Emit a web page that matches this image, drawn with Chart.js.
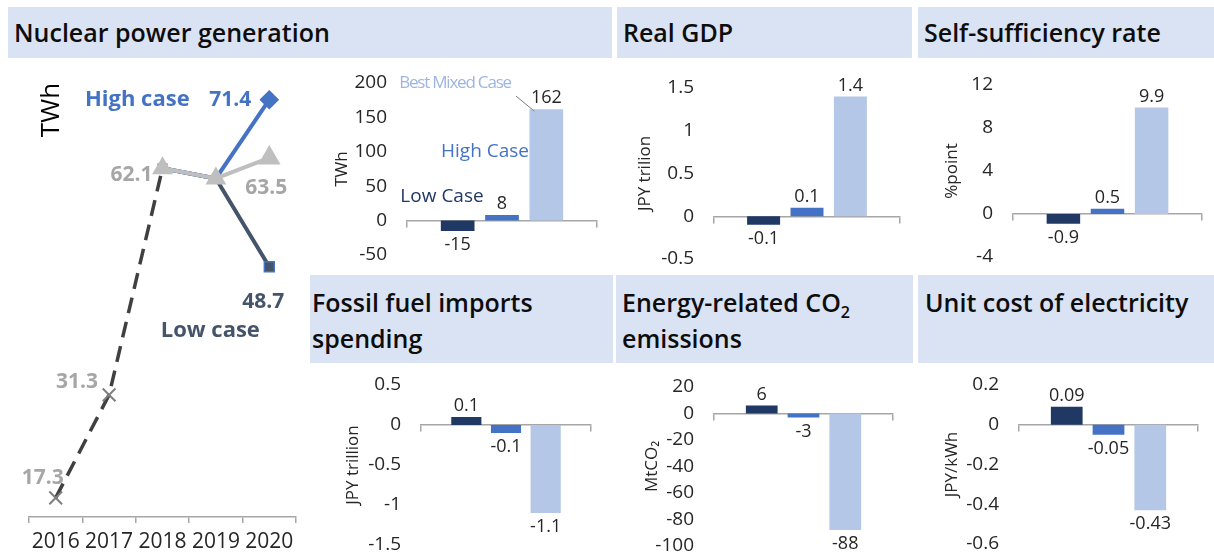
<!DOCTYPE html>
<html>
<head>
<meta charset="utf-8">
<script src="https://cdn.jsdelivr.net/npm/chart.js@4.4.0/dist/chart.umd.min.js"></script>
<style>
  body { margin: 0; background: #fff; width: 1214px; height: 556px; overflow: hidden; position: relative; font-family: 'Open Sans', sans-serif; }
  .hd { position: absolute; background: #dae3f3; color: #0d0d0d; font-weight: 600; font-size: 25px; line-height: 36px; padding: 0 6px; box-sizing: border-box; white-space: nowrap; }
  .row1 { top: 7px; height: 51px; padding-top: 7px; }
  .row2 { top: 275px; height: 88px; padding-top: 9px; }
  canvas { position: absolute; }
</style>
</head>
<body>
<div class="hd row1" style="left:8px;width:604px">Nuclear power generation</div>
<div class="hd row1" style="left:617px;width:295px">Real GDP</div>
<div class="hd row1" style="left:918px;width:296px">Self-sufficiency rate</div>
<div class="hd row2" style="left:310px;width:303px;padding-left:2px">Fossil fuel imports<br>spending</div>
<div class="hd row2" style="left:616px;width:297px">Energy-related CO<sub style="font-size:16px;line-height:0">2</sub><br>emissions</div>
<div class="hd row2" style="left:918px;width:296px;padding-left:7px">Unit cost of electricity</div>

<canvas id="lineNuclear" width="300" height="496" style="left:0;top:60px"></canvas>
<canvas id="barNuclear"></canvas>
<canvas id="barGdp"></canvas>
<canvas id="barSelf"></canvas>
<canvas id="barFossil"></canvas>
<canvas id="barCo2"></canvas>
<canvas id="barUnit"></canvas>

<script>
// nuclear generation path (TWh)
const years = ['2016', '2017', '2018', '2019', '2020'];
const histValues = [17.3, 31.3, 62.1, null, null];
const baseValues = [null, null, 62.1, 60.7, 63.5];
const highValues = [null, null, 62.1, 60.7, 71.4];
const lowValues = [null, null, 62.1, 60.7, 48.7];

// differences by case
const caseNames = ['Low Case', 'High Case', 'Best Mixed Case'];
const caseColors = ['#203864', '#4472c4', '#b4c7e7'];
const nuclearDiff = [-15, 8, 162];
const gdpDiff = [-0.1, 0.1, 1.4];
const selfSuffDiff = [-0.9, 0.5, 9.9];
const fossilDiff = [0.1, -0.1, -1.1];
const co2Diff = [6, -3, -88];
const unitCostDiff = [0.09, -0.05, -0.43];

// y ranges: [min, max, step]
const nuclearTicks = [-50, 200, 50];
const gdpTicks = [-0.5, 1.5, 0.5];
const selfSuffTicks = [-4, 12, 4];
const fossilTicks = [-1.5, 0.5, 0.5];
const co2Ticks = [-100, 20, 20];
const unitCostTicks = [-0.6, 0.2, 0.2];

const TEXT = '#262626';
const AXIS = '#a6a6a6';
const FONT = "'Open Sans', sans-serif";

// ---------- left line chart ----------
const lineLabels = [
    { ds: 3, i: 0, dx: -13, dy: -20, color: '#a6a6a6' },
    { ds: 3, i: 1, dx: -32, dy: -13, color: '#a6a6a6' },
    { ds: 3, i: 2, dx: -31, dy: 7, color: '#a6a6a6' },
    { ds: 0, i: 4, dx: -3, dy: 30, color: '#a6a6a6' },
    { ds: 1, i: 4, dx: -39, dy: 0, color: '#4472c4' },
    { ds: 2, i: 4, dx: -6, dy: 35, color: '#44546a' }
];

const lineLabelPlugin = {
    id: 'lineLabels',
    afterDatasetsDraw(chart) {
        const ctx = chart.ctx;
        ctx.save();
        ctx.textAlign = 'center';
        ctx.textBaseline = 'middle';
        ctx.font = `bold 21px ${FONT}`;
        lineLabels.forEach(l => {
            const pt = chart.getDatasetMeta(l.ds).data[l.i];
            const v = chart.data.datasets[l.ds].data[l.i];
            ctx.fillStyle = l.color;
            ctx.fillText(v.toFixed(1), pt.x + l.dx, pt.y + l.dy);
        });
        // case names next to the 2020 ends
        ctx.font = `bold 22px ${FONT}`;
        const hi = chart.getDatasetMeta(1).data[4];
        const lo = chart.getDatasetMeta(2).data[4];
        ctx.fillStyle = '#4472c4';
        ctx.fillText('High case', hi.x - 132, hi.y);
        ctx.fillStyle = '#44546a';
        ctx.fillText('Low case', lo.x - 59, lo.y + 64);
        // unit
        ctx.translate(52, 50);
        ctx.rotate(-Math.PI / 2);
        ctx.font = `26px ${FONT}`;
        ctx.fillStyle = '#000';
        ctx.fillText('TWh', 0, 0);
        ctx.restore();
    }
};

new Chart(document.getElementById('lineNuclear'), {
    type: 'line',
    data: {
        labels: years,
        datasets: [
            {
                label: 'Base', data: baseValues, borderColor: '#bfbfbf', backgroundColor: '#bfbfbf',
                borderWidth: 4, pointStyle: 'triangle', pointRadius: [0, 0, 8, 8, 9]
            },
            {
                label: 'High case', data: highValues, borderColor: '#4472c4', backgroundColor: '#4472c4',
                borderWidth: 4, pointStyle: 'rectRot', pointRadius: [0, 0, 0, 0, 7]
            },
            {
                label: 'Low case', data: lowValues, borderColor: '#44546a', backgroundColor: '#44546a',
                borderWidth: 4, pointStyle: 'rect', pointRadius: [0, 0, 6, 0, 7], pointBorderColor: '#4472c4', pointBorderWidth: 1.5
            },
            {
                label: 'Actual', data: histValues, borderColor: '#404040', backgroundColor: '#7f7f7f',
                borderWidth: 3.5, borderDash: [16, 9], pointStyle: 'crossRot', pointRadius: [9, 9, 0, 0, 0],
                pointBorderColor: '#7f7f7f', pointBorderWidth: 2
            }
        ]
    },
    options: {
        responsive: false,
        animation: false,
        layout: { autoPadding: false, padding: { left: 29, right: 4, top: 0, bottom: 0 } },
        plugins: { legend: { display: false }, tooltip: { enabled: false } },
        scales: {
            x: {
                offset: true,
                grid: { drawOnChartArea: false, offset: true, tickLength: 6, color: AXIS, lineWidth: 1.5 },
                border: { color: AXIS, width: 1.5 },
                ticks: { color: TEXT, font: { family: FONT, size: 21 }, padding: 6, maxRotation: 0 },
                afterFit: s => { s.height = 39; }
            },
            y: { display: false, min: 14.7, max: 76.8 }
        }
    },
    plugins: [lineLabelPlugin]
});

// ---------- bar panels ----------
const barValueLabels = {
    id: 'barValueLabels',
    afterDatasetsDraw(chart) {
        const ctx = chart.ctx;
        ctx.save();
        ctx.font = `18px ${FONT}`;
        ctx.fillStyle = TEXT;
        ctx.textAlign = 'center';
        ctx.textBaseline = 'middle';
        chart.data.datasets.forEach((ds, di) => {
            const bar = chart.getDatasetMeta(di).data[0];
            const v = ds.data[0];
            ctx.fillText(String(v), bar.x, v >= 0 ? bar.y - 11 : bar.y + 14);
        });
        ctx.restore();
    }
};

// case names written inside the nuclear panel
const caseNamePlugin = {
    id: 'caseNames',
    afterDatasetsDraw(chart) {
        const ctx = chart.ctx;
        const a = chart.chartArea;
        const bar = chart.getDatasetMeta(2).data[0];
        ctx.save();
        ctx.textBaseline = 'middle';
        ctx.textAlign = 'center';
        ctx.font = `17px ${FONT}`;
        ctx.fillStyle = '#9db5e2';
        ctx.letterSpacing = '-1.2px';
        ctx.fillText(caseNames[2], a.left + 48, a.top);
        ctx.letterSpacing = '0px';
        ctx.strokeStyle = '#7f7f7f';
        ctx.lineWidth = 1;
        ctx.beginPath();
        ctx.moveTo(a.left + 109, a.top + 13);
        ctx.lineTo(bar.x - 12, bar.y + 2);
        ctx.stroke();
        ctx.font = `19px ${FONT}`;
        ctx.fillStyle = caseColors[1];
        ctx.fillText(caseNames[1], a.left + 78, a.top + 69);
        ctx.fillStyle = caseColors[0];
        ctx.fillText(caseNames[0], a.left + 35, a.top + 114);
        ctx.restore();
    }
};

function makeBarPanel(id, values, yTicks, yTitle, area, titleX, left, extra) {
    const canvas = document.getElementById(id);
    const padV = 16;
    canvas.width = area.right - left + 4;
    canvas.height = area.bottom - area.top + padV * 2;
    canvas.style.left = left + 'px';
    canvas.style.top = (area.top - padV) + 'px';
    const titleSize = 17;

    return new Chart(canvas, {
        type: 'bar',
        data: {
            labels: [''],
            datasets: values.map((v, i) => ({
                label: caseNames[i],
                data: [v],
                backgroundColor: caseColors[i],
                categoryPercentage: 0.7,
                barPercentage: 0.76
            }))
        },
        options: {
            responsive: false,
            animation: false,
            layout: { autoPadding: false, padding: { left: 0, right: 4, top: padV, bottom: padV } },
            plugins: { legend: { display: false }, tooltip: { enabled: false } },
            scales: {
                x: {
                    type: 'category',
                    position: { y: 0 },
                    z: 1,
                    grid: { drawOnChartArea: false, offset: true, tickLength: 6, color: AXIS, lineWidth: 1.5 },
                    border: { color: AXIS, width: 1.5 },
                    ticks: { display: false }
                },
                y: {
                    min: yTicks[0],
                    max: yTicks[1],
                    ticks: {
                        stepSize: yTicks[2], color: TEXT, font: { family: FONT, size: 19 }, padding: 0,
                        callback: v => String(Math.round(v * 100) / 100)
                    },
                    // hidden tick marks only push the labels away from the bars
                    grid: { display: false, drawTicks: true, tickLength: 20 },
                    border: { display: false },
                    title: {
                        display: true, text: yTitle, color: TEXT,
                        font: { family: FONT, size: titleSize },
                        padding: { top: titleX - left - titleSize * 0.6, bottom: 0 }
                    },
                    afterFit: s => { s.width = area.left - left; }
                }
            }
        },
        plugins: extra ? [barValueLabels, extra] : [barValueLabels]
    });
}

makeBarPanel('barNuclear', nuclearDiff, nuclearTicks, 'TWh', { left: 407, right: 597, top: 83, bottom: 255 }, 342, 320, caseNamePlugin);
makeBarPanel('barGdp', gdpDiff, gdpTicks, 'JPY trilion', { left: 714, right: 900, top: 88, bottom: 259 }, 645, 620);
makeBarPanel('barSelf', selfSuffDiff, selfSuffTicks, '%point', { left: 1013, right: 1202, top: 85, bottom: 257 }, 952, 925);
makeBarPanel('barFossil', fossilDiff, fossilTicks, 'JPY trillion', { left: 421, right: 591, top: 385, bottom: 545 }, 353, 320);
makeBarPanel('barCo2', co2Diff, co2Ticks, 'MtCO₂', { left: 714, right: 893, top: 387, bottom: 546 }, 652, 620);
makeBarPanel('barUnit', unitCostDiff, unitCostTicks, 'JPY/kWh', { left: 1019, right: 1198, top: 385, bottom: 544 }, 952, 925);
</script>
</body>
</html>
